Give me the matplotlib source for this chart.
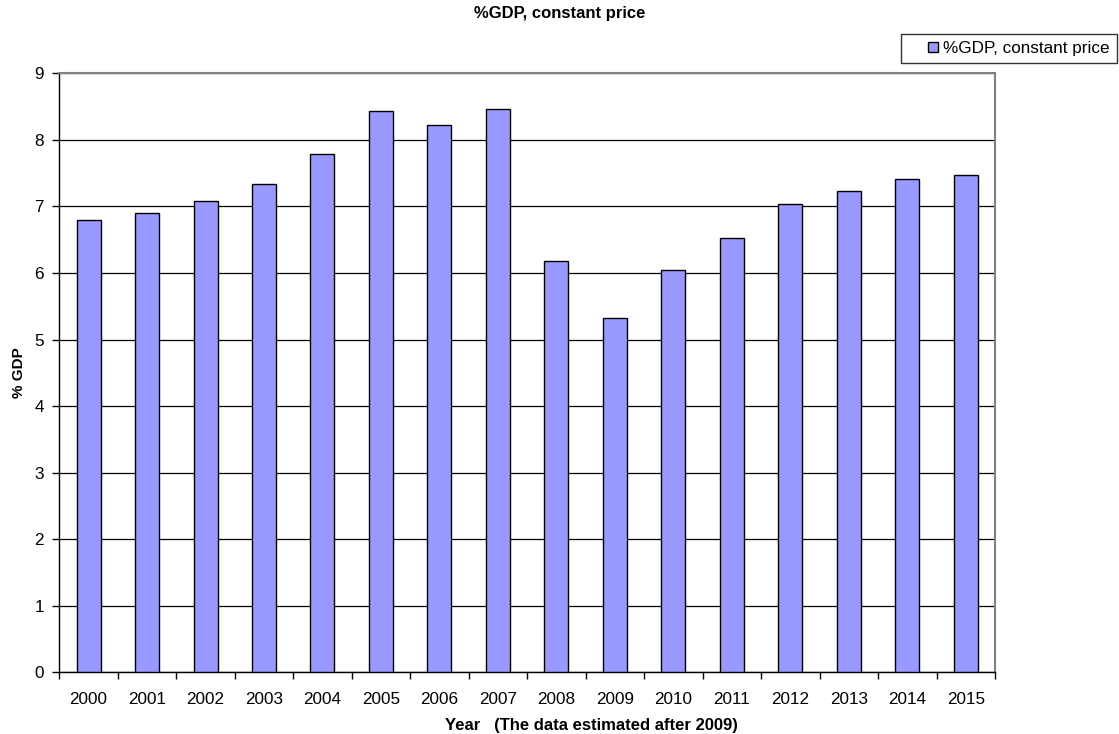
import matplotlib
matplotlib.use('Agg')
import matplotlib.pyplot as plt
import matplotlib.patches as mpatches
from matplotlib.legend_handler import HandlerPatch
import numpy as np

plt.rcParams['font.family'] = ['Liberation Sans', 'DejaVu Sans']

years = ['2000', '2001', '2002', '2003', '2004', '2005', '2006', '2007',
         '2008', '2009', '2010', '2011', '2012', '2013', '2014', '2015']
gdp_growth = [6.79, 6.90, 7.08, 7.34, 7.79, 8.44, 8.23, 8.46,
              6.18, 5.32, 6.04, 6.52, 7.04, 7.23, 7.41, 7.47]
series_name = '%GDP, constant price'


def small_square(legend, orig_handle, xdescent, ydescent, width, height, fontsize):
    # small square key pushed to the right end of the handle slot
    s = 10 * 72 / 100
    return mpatches.Rectangle((width - xdescent - s, -ydescent + (height - s) / 2), s, s)


fig = plt.figure(figsize=(11.19, 7.34), dpi=100)
ax = fig.add_axes([0.053, 0.0840, 0.8362, 0.8161])

x = np.arange(len(years))
bars = ax.bar(x, gdp_growth, width=0.41, color='#9999ff', edgecolor='black',
              linewidth=1.0, label=series_name, zorder=3)

ax.set_xlim(-0.5, len(years) - 0.5)
ax.set_ylim(0, 9)
ax.set_yticks(range(0, 10))
ax.yaxis.grid(True, color='black', linewidth=0.9, zorder=0)
ax.set_axisbelow(True)

# year labels sit between the tick marks, which fall on category boundaries
ax.set_xticks(x)
ax.set_xticklabels(years)
ax.tick_params(axis='x', which='major', length=0, pad=14, labelsize=12.3)
ax.set_xticks(np.arange(-0.5, len(years)), minor=True)
ax.tick_params(axis='x', which='minor', length=5, width=1, color='black')
ax.tick_params(axis='y', length=5, width=1, labelsize=12.3, pad=6)

for side in ['top', 'right']:
    ax.spines[side].set_color('#808080')
    ax.spines[side].set_linewidth(1.5)
for side in ['left', 'bottom']:
    ax.spines[side].set_color('black')
    ax.spines[side].set_linewidth(1.0)

ax.set_ylabel('% GDP', fontsize=11, fontweight='bold', labelpad=6)
ax.set_xlabel('Year   (The data estimated after 2009)', fontsize=12,
              fontweight='bold', labelpad=8)
ax.xaxis.label.set_x(0.569)
fig.suptitle(series_name, fontsize=12, fontweight='bold', y=0.992)

key = bars.patches[0]
leg = fig.legend([key], [series_name], loc='upper right',
                 bbox_to_anchor=(0.998, 0.953),
                 fontsize=12.3, frameon=True, fancybox=False, borderpad=0.4,
                 handlelength=1.75, handleheight=0.7, handletextpad=0.3,
                 borderaxespad=0,
                 handler_map={key: HandlerPatch(patch_func=small_square)})
leg.get_frame().set_edgecolor('black')
leg.get_frame().set_linewidth(1.0)

plt.savefig('out.png', dpi=100)
